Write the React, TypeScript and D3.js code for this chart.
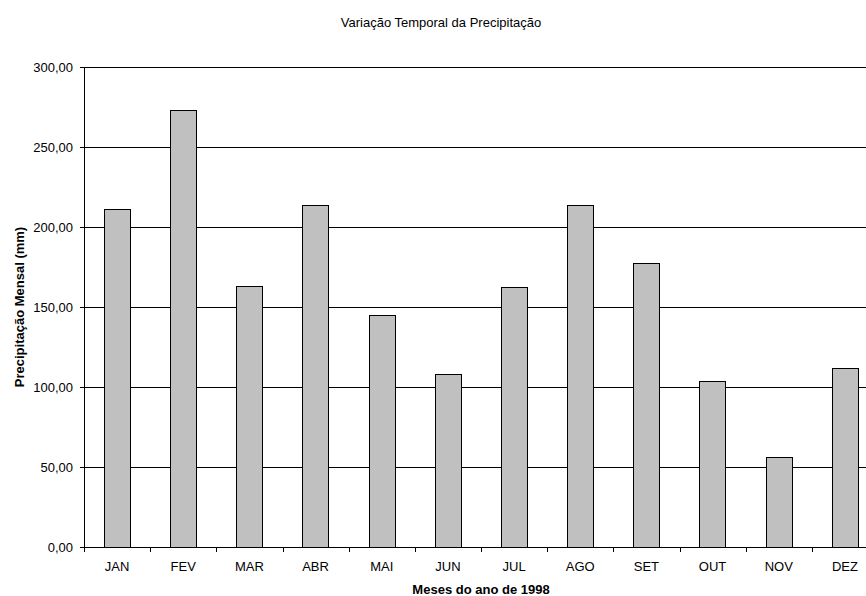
import React from "react";
import * as d3 from "d3";

const months = ["JAN", "FEV", "MAR", "ABR", "MAI", "JUN", "JUL", "AGO", "SET", "OUT", "NOV", "DEZ"];
const precipitation = [211.0, 273.1, 163.3, 213.8, 144.8, 108.3, 162.7, 213.9, 177.7, 103.9, 56.1, 111.9];
const yTicks = [0, 50, 100, 150, 200, 250, 300];

const W = 866;
const H = 596;
const left = 84;
const right = 878;
const top = 67;
const bottom = 547;
const font = "'Liberation Sans', Arial, sans-serif";

export default function App() {
  const x = d3.scaleBand<string>().domain(months).range([left, right]).paddingInner(0).paddingOuter(0);
  const y = d3.scaleLinear().domain([0, 300]).range([bottom, top]);
  const bw = x.bandwidth() / 2.5;
  const fmt = (v: number) => d3.format(".2f")(v).replace(".", ",");

  return (
    <svg width={W} height={H} style={{ position: "absolute", left: 0, top: 0, background: "#fff" }} fontFamily={font}>
      <rect x={0} y={0} width={W} height={H} fill="#fff" />
      <text x={441} y={27} textAnchor="middle" fontSize={13} fill="#000">
        Variação Temporal da Precipitação
      </text>
      {/* horizontal gridlines */}
      {yTicks.filter((t) => t > 0).map((t) => (
        <line key={t} x1={left} x2={W} y1={Math.round(y(t)) + 0.5} y2={Math.round(y(t)) + 0.5} stroke="#000" strokeWidth={1} />
      ))}
      {/* bars */}
      {months.map((m, i) => {
        const cx = (x(m) as number) + x.bandwidth() / 2;
        const yt = y(precipitation[i]);
        return (
          <rect
            key={m}
            x={Math.round(cx - bw / 2) + 0.5}
            y={Math.round(yt) + 0.5}
            width={Math.round(bw)}
            height={Math.round(bottom - yt)}
            fill="#c0c0c0"
            stroke="#000"
            strokeWidth={1}
          />
        );
      })}
      {/* y axis */}
      <line x1={left + 0.5} x2={left + 0.5} y1={top} y2={bottom + 0.5} stroke="#000" />
      {yTicks.map((t) => (
        <g key={t}>
          <line x1={left - 4} x2={left} y1={Math.round(y(t)) + 0.5} y2={Math.round(y(t)) + 0.5} stroke="#000" />
          <text x={73} y={y(t) + 5} textAnchor="end" fontSize={13} fill="#000">
            {fmt(t)}
          </text>
        </g>
      ))}
      {/* x axis */}
      <line x1={left} x2={W} y1={bottom + 0.5} y2={bottom + 0.5} stroke="#000" />
      {months.map((m) => (
        <line key={"t" + m} x1={Math.round(x(m) as number) + 0.5} x2={Math.round(x(m) as number) + 0.5} y1={bottom} y2={bottom + 5} stroke="#000" />
      ))}
      {months.map((m) => (
        <text key={"l" + m} x={(x(m) as number) + x.bandwidth() / 2} y={571} textAnchor="middle" fontSize={13} fill="#000">
          {m}
        </text>
      ))}
      <text x={481} y={594} textAnchor="middle" fontSize={13} fontWeight="bold" fill="#000">
        Meses do ano de 1998
      </text>
      <text transform={`translate(24, ${(top + bottom) / 2}) rotate(-90)`} textAnchor="middle" fontSize={13} fontWeight="bold" fill="#000">
        Precipitação Mensal (mm)
      </text>
    </svg>
  );
}
